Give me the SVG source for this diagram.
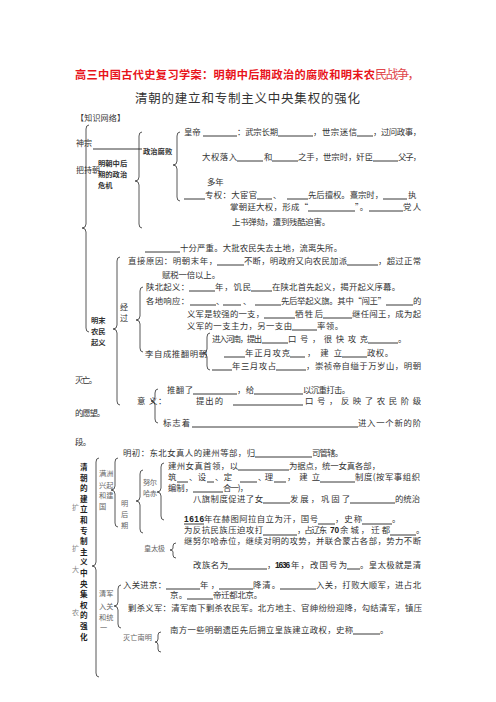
<svg xmlns="http://www.w3.org/2000/svg" width="496" height="702" viewBox="0 0 496 702">
<style>
text{font-family:"Noto Sans CJK SC","Noto Sans",sans-serif;font-size:8.4px;fill:#333}
.ti{font-size:11.2px;font-weight:bold;fill:#e8141b}
.ti2{font-size:12.5px;fill:#e0474c}
.st{font-size:12.5px;fill:#333}
.l{font-size:7.3px;font-weight:bold;fill:#333}
.g{font-size:7.2px;fill:#666}
.v{font-size:7.6px;font-weight:bold;fill:#222}
.x{font-size:7px;fill:#888}
.n{font-family:"Liberation Sans",sans-serif;font-weight:bold;font-size:8.3px;fill:#222}
.u{stroke:#222;stroke-width:0.9}
.br{fill:none;stroke:#444;stroke-width:0.9}
</style>
<rect width="496" height="702" fill="#fff"/>

<g id="title">
<text class="ti" x="75" y="79" textLength="300">高三中国古代史复习学案：明朝中后期政治的腐败和明末农</text>
<text class="ti2" x="375" y="79" textLength="45">民战争，</text>
<text class="st" x="135" y="103" textLength="225">清朝的建立和专制主义中央集权的强化</text>
<text x="76" y="121" textLength="49" style="font-size:8px">【知识网络】</text>
</g>

<g id="connectors">
<path class="br" d="M89,125 Q86,125 86,129 L86,224 Q86,228 82,228 Q86,228 86,232 L86,328 Q86,332 89,332"/>
<path class="br" d="M142,132 Q139,132 139,136 L139,177 Q139,181 135,181 Q139,181 139,185 L139,224 Q139,228 142,228"/>
<path class="br" d="M180,132 Q177,132 177,136 L177,161 Q177,165 173,165 Q177,165 177,169 L177,197 Q177,201 180,201"/>
<path class="br" d="M120,257 Q117,257 117,261 L117,325 Q117,329 113,329 Q117,329 117,333 L117,401 Q117,405 120,405"/>
<path class="br" d="M143,287 Q140,287 140,291 L140,316 Q140,320 136,320 Q140,320 140,324 L140,348 Q140,352 143,352"/>
<path class="br" d="M210,333 Q207,333 207,337 L207,349 Q207,353 203,353 Q207,353 207,357 L207,366 Q207,370 210,370"/>
<path class="br" d="M158,389 Q155,389 155,393 L155,397 Q155,401 151,401 Q155,401 155,405 L155,419 Q155,423 158,423"/>
<path class="br" d="M99,458 Q96,458 96,462 L96,562 Q96,566 92,566 Q96,566 96,570 L96,673 Q96,677 99,677"/>
<path class="br" d="M118,458 Q115,458 115,462 L115,486 Q115,490 111,490 Q115,490 115,494 L115,523 Q115,527 118,527"/>
<path class="br" d="M143,470 Q140,470 140,474 L140,497 Q140,501 136,501 Q140,501 140,505 L140,529 Q140,533 143,533"/>
<path class="br" d="M164,463 Q161,463 161,467 L161,488 Q161,492 157,492 Q161,492 161,496 L161,516 Q161,520 164,520"/>
<path class="br" d="M176,543 Q173,543 173,546 L173,548 Q173,550 170,550 Q173,550 173,552 L173,555 Q173,558 176,558"/>
<path class="br" d="M121,585 Q118,585 118,589 L118,602 Q118,606 114,606 Q118,606 118,610 L118,624 Q118,628 121,628"/>
<path class="br" d="M161,632 Q158,632 158,635 L158,639 Q158,642 155,642 Q158,642 158,645 L158,649 Q158,652 161,652"/>
<line class="u" x1="93" y1="149" x2="142" y2="149"/>
</g>

<g id="blanks">
<line class="u" x1="203" y1="136" x2="237" y2="136"/>
<line class="u" x1="278" y1="136" x2="313" y2="136"/>
<line class="u" x1="357" y1="136" x2="373" y2="136"/>
<line class="u" x1="237" y1="161" x2="263" y2="161"/>
<line class="u" x1="272" y1="161" x2="298" y2="161"/>
<line class="u" x1="373" y1="161" x2="398" y2="161"/>
<line class="u" x1="184" y1="199" x2="205" y2="199"/>
<line class="u" x1="257" y1="199" x2="272" y2="199"/>
<line class="u" x1="287" y1="199" x2="308" y2="199"/>
<line class="u" x1="383" y1="199" x2="407" y2="199"/>
<line class="u" x1="308" y1="211" x2="355" y2="211"/>
<line class="u" x1="369" y1="211" x2="403" y2="211"/>
<line class="u" x1="145" y1="252" x2="180" y2="252"/>
<line class="u" x1="217" y1="265" x2="244" y2="265"/>
<line class="u" x1="347" y1="265" x2="378" y2="265"/>
<line class="u" x1="189" y1="291" x2="215" y2="291"/>
<line class="u" x1="251" y1="291" x2="272" y2="291"/>
<line class="u" x1="190" y1="305" x2="216" y2="305"/>
<line class="u" x1="223" y1="305" x2="241" y2="305"/>
<line class="u" x1="255" y1="305" x2="281" y2="305"/>
<line class="u" x1="386" y1="305" x2="413" y2="305"/>
<line class="u" x1="264" y1="318" x2="295" y2="318"/>
<line class="u" x1="323" y1="318" x2="352" y2="318"/>
<line class="u" x1="292" y1="330" x2="317" y2="330"/>
<line class="u" x1="262" y1="343" x2="288" y2="343"/>
<line class="u" x1="368" y1="343" x2="398" y2="343"/>
<line class="u" x1="224" y1="357" x2="245" y2="357"/>
<line class="u" x1="290" y1="357" x2="305" y2="357"/>
<line class="u" x1="342" y1="357" x2="367" y2="357"/>
<line class="u" x1="212" y1="370" x2="232" y2="370"/>
<line class="u" x1="276" y1="370" x2="306" y2="370"/>
<line class="u" x1="193" y1="394" x2="237" y2="394"/>
<line class="u" x1="254" y1="394" x2="303" y2="394"/>
<line class="u" x1="233" y1="405" x2="303" y2="405"/>
<line class="u" x1="192" y1="427" x2="358" y2="427"/>
<line class="u" x1="255" y1="457" x2="312" y2="457"/>
<line class="u" x1="238" y1="470" x2="289" y2="470"/>
<line class="u" x1="177" y1="482" x2="188" y2="482"/>
<line class="u" x1="207" y1="482" x2="214" y2="482"/>
<line class="u" x1="240" y1="482" x2="257" y2="482"/>
<line class="u" x1="274" y1="482" x2="286" y2="482"/>
<line class="u" x1="320" y1="482" x2="355" y2="482"/>
<line class="u" x1="193" y1="492" x2="223" y2="492"/>
<line class="u" x1="263" y1="503" x2="290" y2="503"/>
<line class="u" x1="350" y1="503" x2="395" y2="503"/>
<line class="u" x1="184" y1="524" x2="204" y2="524"/>
<line class="u" x1="318" y1="524" x2="335" y2="524"/>
<line class="u" x1="362" y1="524" x2="392" y2="524"/>
<line class="u" x1="263" y1="535" x2="297" y2="535"/>
<line class="u" x1="390" y1="535" x2="416" y2="535"/>
<line class="u" x1="228" y1="569" x2="267" y2="569"/>
<line class="u" x1="347" y1="569" x2="360" y2="569"/>
<line class="u" x1="166" y1="589" x2="200" y2="589"/>
<line class="u" x1="219" y1="589" x2="253" y2="589"/>
<line class="u" x1="280" y1="589" x2="316" y2="589"/>
<line class="u" x1="187" y1="599" x2="213" y2="599"/>
<line class="u" x1="353" y1="634" x2="380" y2="634"/>
</g>

<g id="ming-crisis">
<text x="76" y="146" style="font-size:8px">神宗</text>
<text x="76" y="173" style="font-size:8px">把持朝</text>
<text class="l" x="98" y="166">明朝中后</text>
<text class="l" x="98" y="177">期的政治</text>
<text class="l" x="98" y="188">危机</text>
<text class="l" x="143" y="154">政治腐败</text>
<text x="184" y="135">皇帝</text>
<text x="237" y="135" textLength="41">：武宗长期</text>
<text x="313" y="135" textLength="44">，世宗迷信</text>
<text x="373" y="135" textLength="48">，过问政事，</text>
<text x="202" y="160" textLength="35">大权落入</text>
<text x="264" y="160">和</text>
<text x="298" y="160" textLength="75">之手，世宗时，奸臣</text>
<text x="398" y="160" textLength="23">父子，</text>
<text x="207" y="185">多年</text>
<text x="205" y="198" textLength="52">专权：大宦官</text>
<text x="273" y="198">、</text>
<text x="308" y="198" textLength="75">先后擅权。熹宗时，</text>
<text x="408" y="198">执</text>
<text x="230" y="210" textLength="78">掌朝廷大权，形成“</text>
<text x="355" y="210" textLength="13">”。</text>
<text x="403" y="210" textLength="18">党人</text>
<text x="232" y="225" textLength="98">上书弹劾，遭到残酷迫害。</text>
</g>

<g id="peasant-war">
<text x="180" y="251" textLength="162">十分严重。大批农民失去土地，流离失所。</text>
<text x="128" y="264" textLength="89">直接原因：明朝末年，</text>
<text x="244" y="264" textLength="103">不断，明政府又向农民加派</text>
<text x="378" y="264" textLength="43">，超过正常</text>
<text x="162" y="278" textLength="58">赋税一倍以上。</text>
<text class="l" x="91" y="323">明末</text>
<text class="l" x="91" y="334">农民</text>
<text class="l" x="91" y="345">起义</text>
<text style="font-size:8px" x="120" y="310">经</text>
<text style="font-size:8px" x="120" y="321">过</text>
<text x="146" y="290" textLength="43">陕北起义：</text>
<text x="215" y="290" textLength="36">年，饥民</text>
<text x="272" y="290" textLength="128">在陕北首先起义，揭开起义序幕。</text>
<text x="146" y="304" textLength="43">各地响应：</text>
<text x="216" y="304">、</text>
<text x="243" y="304">、</text>
<text x="281" y="304" textLength="105">先后举起义旗。其中“闯王”</text>
<text x="413" y="304">的</text>
<text x="187" y="317" textLength="77">义军是较强的一支，</text>
<text x="295" y="317" textLength="28">牺牲后</text>
<text x="352" y="317" textLength="69">继任闯王，成为起</text>
<text x="187" y="329" textLength="105">义军的一支主力，另一支由</text>
<text x="317" y="329" textLength="26">率领。</text>
<text x="145" y="357" textLength="62">李自成推翻明朝</text>
<text x="212" y="342" textLength="50">进入河南，提出</text>
<text x="288" y="342" textLength="80">口号，很快攻克</text>
<text x="398" y="342">。</text>
<text x="245" y="356" textLength="45">年正月攻克</text>
<text x="307" y="356" textLength="35">，建立</text>
<text x="367" y="356" textLength="26">政权。</text>
<text x="232" y="369" textLength="44">年三月攻占</text>
<text x="306" y="369" textLength="115">，崇祯帝自缢于万岁山，明朝</text>
<text x="75" y="383" textLength="22">灭亡。</text>
<text x="167" y="393" textLength="26">推翻了</text>
<text x="237" y="393" textLength="17">，给</text>
<text x="303" y="393" textLength="47">以沉重打击。</text>
<text x="137" y="404">意</text>
<text x="149" y="404">义</text>
<text x="158" y="404">：</text>
<text x="196" y="404" textLength="27">提出的</text>
<text x="305" y="404" textLength="116">口号，反映了农民阶级</text>
<text x="75" y="416" textLength="30">的愿望。</text>
<text x="163" y="426" textLength="27">标志着</text>
<text x="358" y="426" textLength="63">进入一个新的阶</text>
<text x="75" y="445" textLength="16">段。</text>
</g>

<g id="qing">
<text class="v" x="80" y="470">清</text>
<text class="v" x="80" y="480.6">朝</text>
<text class="v" x="80" y="491.2">的</text>
<text class="v" x="80" y="501.8">建</text>
<text class="v" x="80" y="512.4">立</text>
<text class="v" x="80" y="523">和</text>
<text class="v" x="80" y="533.6">专</text>
<text class="v" x="80" y="544.2">制</text>
<text class="v" x="80" y="554.8">主</text>
<text class="v" x="80" y="565.4">义</text>
<text class="v" x="80" y="576">中</text>
<text class="v" x="80" y="586.6">央</text>
<text class="v" x="80" y="597.2">集</text>
<text class="v" x="80" y="607.8">权</text>
<text class="v" x="80" y="618.4">的</text>
<text class="v" x="80" y="629">强</text>
<text class="v" x="80" y="639.6">化</text>
<text class="x" x="72" y="510">扩</text>
<text class="x" x="72" y="551">扩</text>
<text class="x" x="72" y="572">大</text>
<text class="x" x="72" y="615">农</text>
<text class="g" x="99" y="476">满洲</text>
<text class="g" x="99" y="488">兴起</text>
<text class="g" x="99" y="498">和建</text>
<text class="g" x="99" y="509">国</text>
<text class="g" x="121" y="506">明</text>
<text class="g" x="121" y="517">后</text>
<text class="g" x="121" y="528">期</text>
<text class="g" x="143" y="485" textLength="14">努尔</text>
<text class="g" x="143" y="496" textLength="14">哈赤</text>
<text class="g" x="144" y="551" textLength="21">皇太极</text>
<text x="123" y="456" textLength="132">明初：东北女真人的建州等部，归</text>
<text x="312" y="456" textLength="31">司管辖。</text>
<text x="168" y="469" textLength="70">建州女真首领，以</text>
<text x="289" y="469" textLength="91">为据点，统一女真各部，</text>
<text x="168" y="480">筑</text>
<text x="189" y="480" textLength="17">、设</text>
<text x="215" y="480" textLength="17">、定</text>
<text x="258" y="480" textLength="15">、理</text>
<text x="287" y="480" textLength="33">，建立</text>
<text x="355" y="480" textLength="65">制度(按军事组织</text>
<text x="168" y="491" textLength="25">编制，</text>
<text x="223" y="491" textLength="25">合一)，</text>
<text x="193" y="502" textLength="70">八旗制度促进了女</text>
<text x="290" y="502" textLength="60">发展，巩固了</text>
<text x="395" y="502" textLength="25">的统治</text>
<text class="n" x="184" y="522" textLength="20">1616</text>
<text x="204" y="522" textLength="114">年在赫图阿拉自立为汗，国号</text>
<text x="335" y="522" textLength="27">，史称</text>
<text x="392" y="522">。</text>
<text x="184" y="533" textLength="79">为反抗民族压迫攻打</text>
<text x="297" y="533" textLength="30">，占辽东</text>
<text class="n" x="330" y="533" textLength="9">70</text>
<text x="340" y="533" textLength="50">余城，迁都</text>
<text x="416" y="533">。</text>
<text x="184" y="544" textLength="237">继努尔哈赤位，继续对明的攻势，并联合蒙古各部，势力不断</text>
<text x="193" y="568" textLength="35">改族名为</text>
<text x="267" y="568">，</text>
<text class="n" x="275" y="568" textLength="15">1636</text>
<text x="291" y="568" textLength="56">年，改国号为</text>
<text x="360" y="568" textLength="61">。皇太极就是清</text>
<text x="123" y="588" textLength="43">入关进京：</text>
<text x="200" y="588" textLength="19">年，</text>
<text x="253" y="588" textLength="27">降清。</text>
<text x="316" y="588" textLength="105">入关，打败大顺军，进占北</text>
<text x="170" y="598" textLength="17">京。</text>
<text x="213" y="598" textLength="49">帝迁都北京。</text>
<text class="g" x="99" y="596">清军</text>
<text class="g" x="99" y="609">入关</text>
<text class="g" x="99" y="620">和统</text>
<text class="g" x="100" y="630">一</text>
<text x="128" y="611" textLength="294">剿杀义军：清军南下剿杀农民军。北方地主、官绅纷纷迎降，勾结清军，镇压</text>
<text x="170" y="633" textLength="183">南方一些明朝遗臣先后拥立皇族建立政权，史称</text>
<text x="380" y="633">。</text>
<text class="g" x="123" y="640" textLength="29">灭亡南明</text>
</g>
</svg>
